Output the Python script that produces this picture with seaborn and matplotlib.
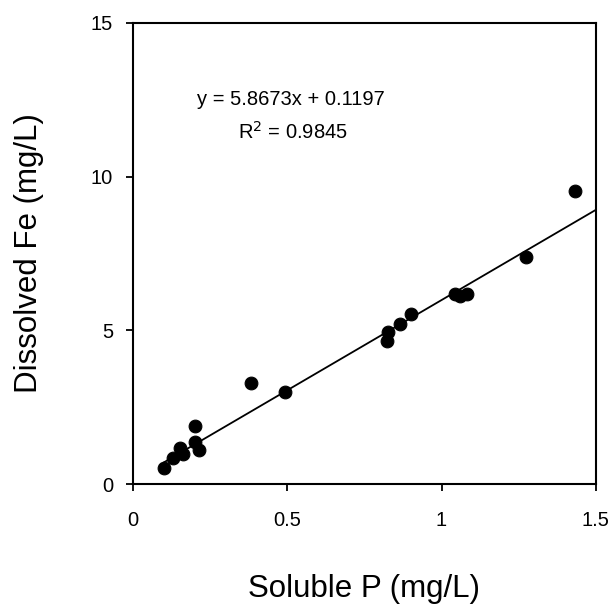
import matplotlib
matplotlib.use("Agg")
import matplotlib.pyplot as plt
import seaborn as sns
import numpy as np
import pandas as pd

soluble_p = [0.102, 0.131, 0.153, 0.164, 0.203, 0.203, 0.216, 0.383, 0.493,
             0.822, 0.828, 0.865, 0.900, 1.043, 1.060, 1.081, 1.273, 1.432]
dissolved_fe = [0.54, 0.86, 1.17, 0.98, 1.89, 1.38, 1.10, 3.30, 3.00,
                4.67, 4.96, 5.21, 5.53, 6.18, 6.12, 6.18, 7.39, 9.53]
slope = 5.8673
intercept = 0.1197
fit_x = [0.1, 1.5]
x_ticks = [0, 0.5, 1, 1.5]
x_tick_labels = ["0", "0.5", "1", "1.5"]
y_ticks = [0, 5, 10, 15]
y_tick_labels = ["0", "5", "10", "15"]

sns.set_style("ticks")
plt.rcParams['font.family'] = ['Liberation Sans', 'DejaVu Sans']
plt.rcParams['text.color'] = 'black'
plt.rcParams['axes.labelcolor'] = 'black'

fig = plt.figure(figsize=(6.16, 6.06), dpi=100)
ax = fig.add_axes([0.2154, 0.2008, 0.752, 0.7617])

df = pd.DataFrame({"x": soluble_p, "y": dissolved_fe})
fit_df = pd.DataFrame({"x": fit_x, "y": [slope * v + intercept for v in fit_x]})

sns.lineplot(data=fit_df, x="x", y="y", ax=ax, color="black", linewidth=1.3)
sns.scatterplot(data=df, x="x", y="y", ax=ax, color="black", s=85, edgecolor="black", zorder=3)

ax.set_xlim(0, 1.5)
ax.set_ylim(0, 15)
ax.set_xticks(x_ticks)
ax.set_xticklabels(x_tick_labels)
ax.set_yticks(y_ticks)
ax.set_yticklabels(y_tick_labels)
ax.tick_params(axis="both", direction="out", length=5, width=1.3, labelsize=14.5,
               colors="black", labelcolor="black")
ax.tick_params(axis="x", pad=14)
ax.tick_params(axis="y", pad=9)

for sp in ax.spines.values():
    sp.set_visible(True)
    sp.set_linewidth(1.5)
    sp.set_color("black")

ax.set_xlabel("Soluble P (mg/L)", fontsize=22.5, labelpad=32, color="black")
ax.set_ylabel("Dissolved Fe (mg/L)", fontsize=22.5, labelpad=34, color="black")

ax.text(0.511, 12.49, "y = 5.8673x + 0.1197", fontsize=14.5, ha="center", va="center", color="black")
ax.text(0.519, 11.45, "R$^2$ = 0.9845", fontsize=14.5, ha="center", va="center", color="black")

fig.savefig("out.png", dpi=100, facecolor="white")
